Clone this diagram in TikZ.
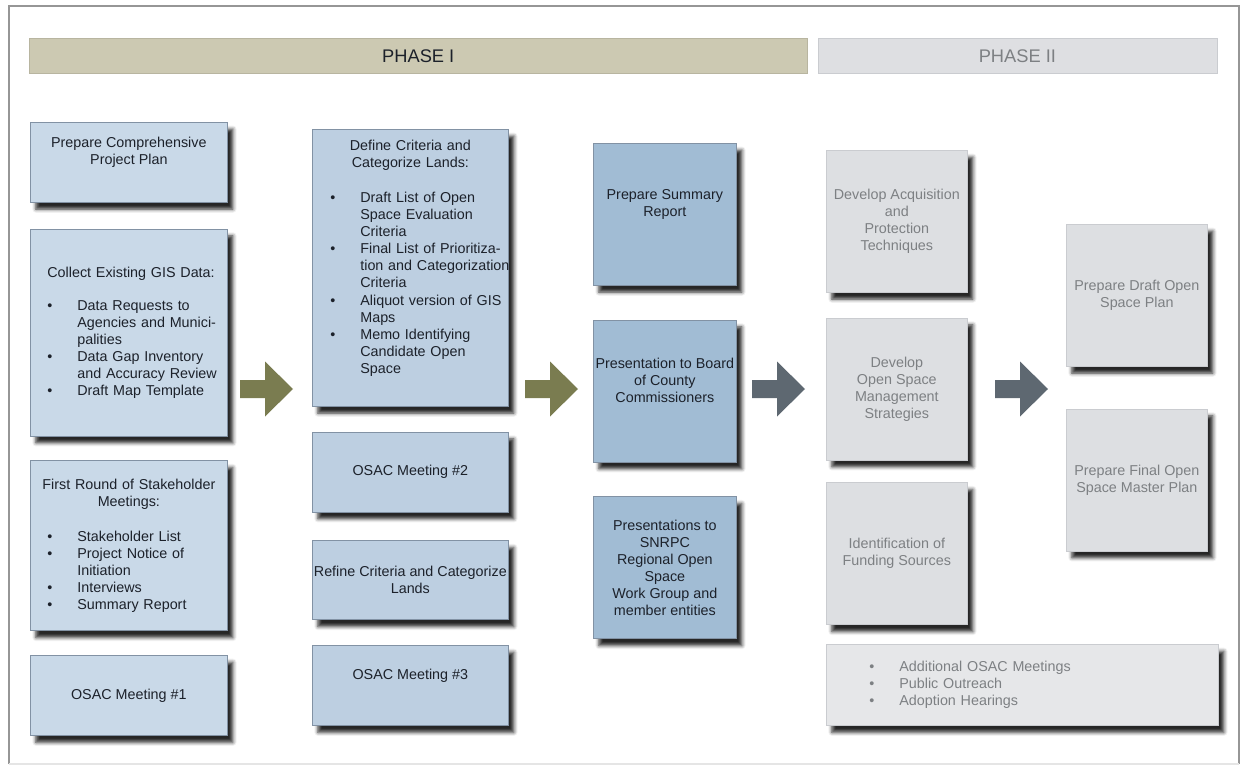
\documentclass[tikz,border=0pt]{standalone}
\usepackage{fontspec}
\setmainfont{Liberation Sans}
\usetikzlibrary{positioning,shadows.blur}
\definecolor{phaseonebar}{RGB}{204,201,178}
\definecolor{phasetwobar}{RGB}{222,223,226}
\definecolor{startcolor}{RGB}{201,217,232}
\definecolor{criteriacolor}{RGB}{189,207,225}
\definecolor{reportcolor}{RGB}{161,188,212}
\definecolor{plancolor}{RGB}{221,223,226}
\definecolor{bluelinecolor}{RGB}{130,146,164}
\definecolor{graylinecolor}{RGB}{202,204,208}
\definecolor{framecolor}{RGB}{150,150,150}
\definecolor{olivecolor}{RGB}{122,124,80}
\definecolor{slatecolor}{RGB}{94,104,113}
\definecolor{darktext}{RGB}{28,33,42}
\definecolor{greytext}{RGB}{125,128,131}

% bullet lines inside the list boxes (kept on one line each)
\newcommand{\bitem}[1]{\mbox{\makebox[0.75cm][l]{\textbullet}#1}}
\newcommand{\bcont}[1]{\mbox{\hspace*{0.75cm}#1}}
\newcommand{\bhead}[1]{\makebox[\linewidth]{#1}}

\begin{document}
\begin{tikzpicture}[
    node distance=0.6cm,
    box/.style={rectangle, draw, line width=0.5pt, inner sep=0pt, align=center, font=\fontsize{10.2}{12.1}\selectfont,
        blur shadow={shadow xshift=0.14cm, shadow yshift=-0.17cm, shadow blur radius=0.09cm, shadow opacity=85}},
    startbox/.style={box, fill=startcolor, draw=bluelinecolor, text=darktext, minimum width=4.925cm, minimum height=2cm},
    criteriabox/.style={box, fill=criteriacolor, draw=bluelinecolor, text=darktext, minimum width=4.9cm, minimum height=2cm},
    reportbox/.style={box, fill=reportcolor, draw=bluelinecolor, text=darktext, minimum width=3.575cm, minimum height=3.55cm},
    planbox/.style={box, fill=plancolor, draw=graylinecolor, text=greytext, minimum width=3.525cm, minimum height=3.55cm},
    listbox/.style={align=left},
    phasebar/.style={rectangle, minimum height=0.875cm, font=\fontsize{13}{15}\selectfont}
]
\useasboundingbox (0,0) rectangle (31.075,-19.225);

% Outer frame
\draw[framecolor, line width=0.8pt] (0.225,-19.1) -- (0.225,-0.15) -- (30.975,-0.15) -- (30.975,-19.1);
\draw[framecolor!25, line width=0.8pt] (0.225,-19.1) -- (30.975,-19.1);

% Phase headers
\node[phasebar, fill=phaseonebar, draw=phaseonebar!90!black, text=darktext, minimum width=19.45cm, anchor=north west] (phaseone) at (0.725,-0.95) {PHASE I};
\node[phasebar, fill=phasetwobar, draw=graylinecolor, text=greytext, minimum width=9.975cm, right=0.25cm of phaseone] (phasetwo) {PHASE II};

% Column 1
\node[startbox, anchor=north west] (prepplan) at (0.75,-3.05) {Prepare Comprehensive\\Project Plan\\\strut};
\node[startbox, listbox, minimum height=5.175cm, inner xsep=0.425cm, text width=4.075cm, below=0.65cm of prepplan] (gisdata) {\mbox{Collect Existing GIS Data:}\\[0.4cm]
    \bitem{Data Requests to}\\ \bcont{Agencies and Munici-}\\ \bcont{palities}\\
    \bitem{Data Gap Inventory}\\ \bcont{and Accuracy Review}\\
    \bitem{Draft Map Template}};
\node[startbox, listbox, minimum height=4.25cm, inner xsep=0.425cm, text width=4.075cm, below=of gisdata] (stakeholders) {\bhead{First Round of Stakeholder}\\ \bhead{Meetings:}\\[0.45cm]
    \bitem{Stakeholder List}\\
    \bitem{Project Notice of}\\ \bcont{Initiation}\\
    \bitem{Interviews}\\
    \bitem{Summary Report}};
\node[startbox, below=of stakeholders] (osac1) {OSAC Meeting \#1};

% Column 2
\node[criteriabox, listbox, minimum height=6.925cm, inner xsep=0.45cm, text width=4cm, anchor=north west] (criteria) at (7.8,-3.225) {\bhead{Define Criteria and}\\ \bhead{Categorize Lands:}\\[0.45cm]
    \bitem{Draft List of Open}\\ \bcont{Space Evaluation}\\ \bcont{Criteria}\\
    \bitem{Final List of Prioritiza-}\\ \bcont{tion and Categorization}\\ \bcont{Criteria}\\
    \bitem{Aliquot version of GIS}\\ \bcont{Maps}\\
    \bitem{Memo Identifying}\\ \bcont{Candidate Open}\\ \bcont{Space}\\ \strut};
\node[criteriabox, below=0.625cm of criteria] (osac2) {OSAC Meeting \#2};
\node[criteriabox, minimum height=1.975cm, below=0.7cm of osac2] (refine) {Refine Criteria and Categorize\\Lands};
\node[criteriabox, below=0.625cm of refine] (osac3) {OSAC Meeting \#3\\\strut};

% Column 3
\node[reportbox, anchor=north west] (summary) at (14.825,-3.575) {Prepare Summary\\Report\\\strut};
\node[reportbox, below=0.85cm of summary] (board) {Presentation to Board\\of County\\Commissioners\\\strut};
\node[reportbox, below=0.85cm of board] (snrpc) {Presentations to\\SNRPC\\Regional Open\\Space\\Work Group and\\member entities};

% Phase II columns
\node[planbox, anchor=north west] (acquisition) at (20.65,-3.75) {Develop Acquisition\\and\\Protection\\Techniques};
\node[planbox, below=0.625cm of acquisition] (management) {Develop\\Open Space\\Management\\Strategies};
\node[planbox, below=0.55cm of management] (funding) {Identification of\\Funding Sources};
\node[planbox, listbox, fill=plancolor!75!white, minimum width=9.8cm, minimum height=2.025cm, inner xsep=1.075cm, text width=7.65cm,
    below=0.475cm of funding.south west, anchor=north west] (outreach) {\bitem{Additional OSAC Meetings}\\
    \bitem{Public Outreach}\\
    \bitem{Adoption Hearings}};
\node[planbox, anchor=north west] (draftplan) at (26.65,-5.6) {Prepare Draft Open\\Space Plan};
\node[planbox, below=1.05cm of draftplan] (finalplan) {Prepare Final Open\\Space Master Plan};

% Block arrows between the columns
\foreach \x/\c in {6.0/olivecolor, 13.125/olivecolor, 18.8/slatecolor, 24.875/slatecolor}
    \fill[\c] (\x,-9.5) -- ++(0.625,0) -- ++(0,0.4625) -- ++(0.7,-0.6875) -- ++(-0.7,-0.6875) -- ++(0,0.4625) -- ++(-0.625,0) -- cycle;

\end{tikzpicture}
\end{document}
